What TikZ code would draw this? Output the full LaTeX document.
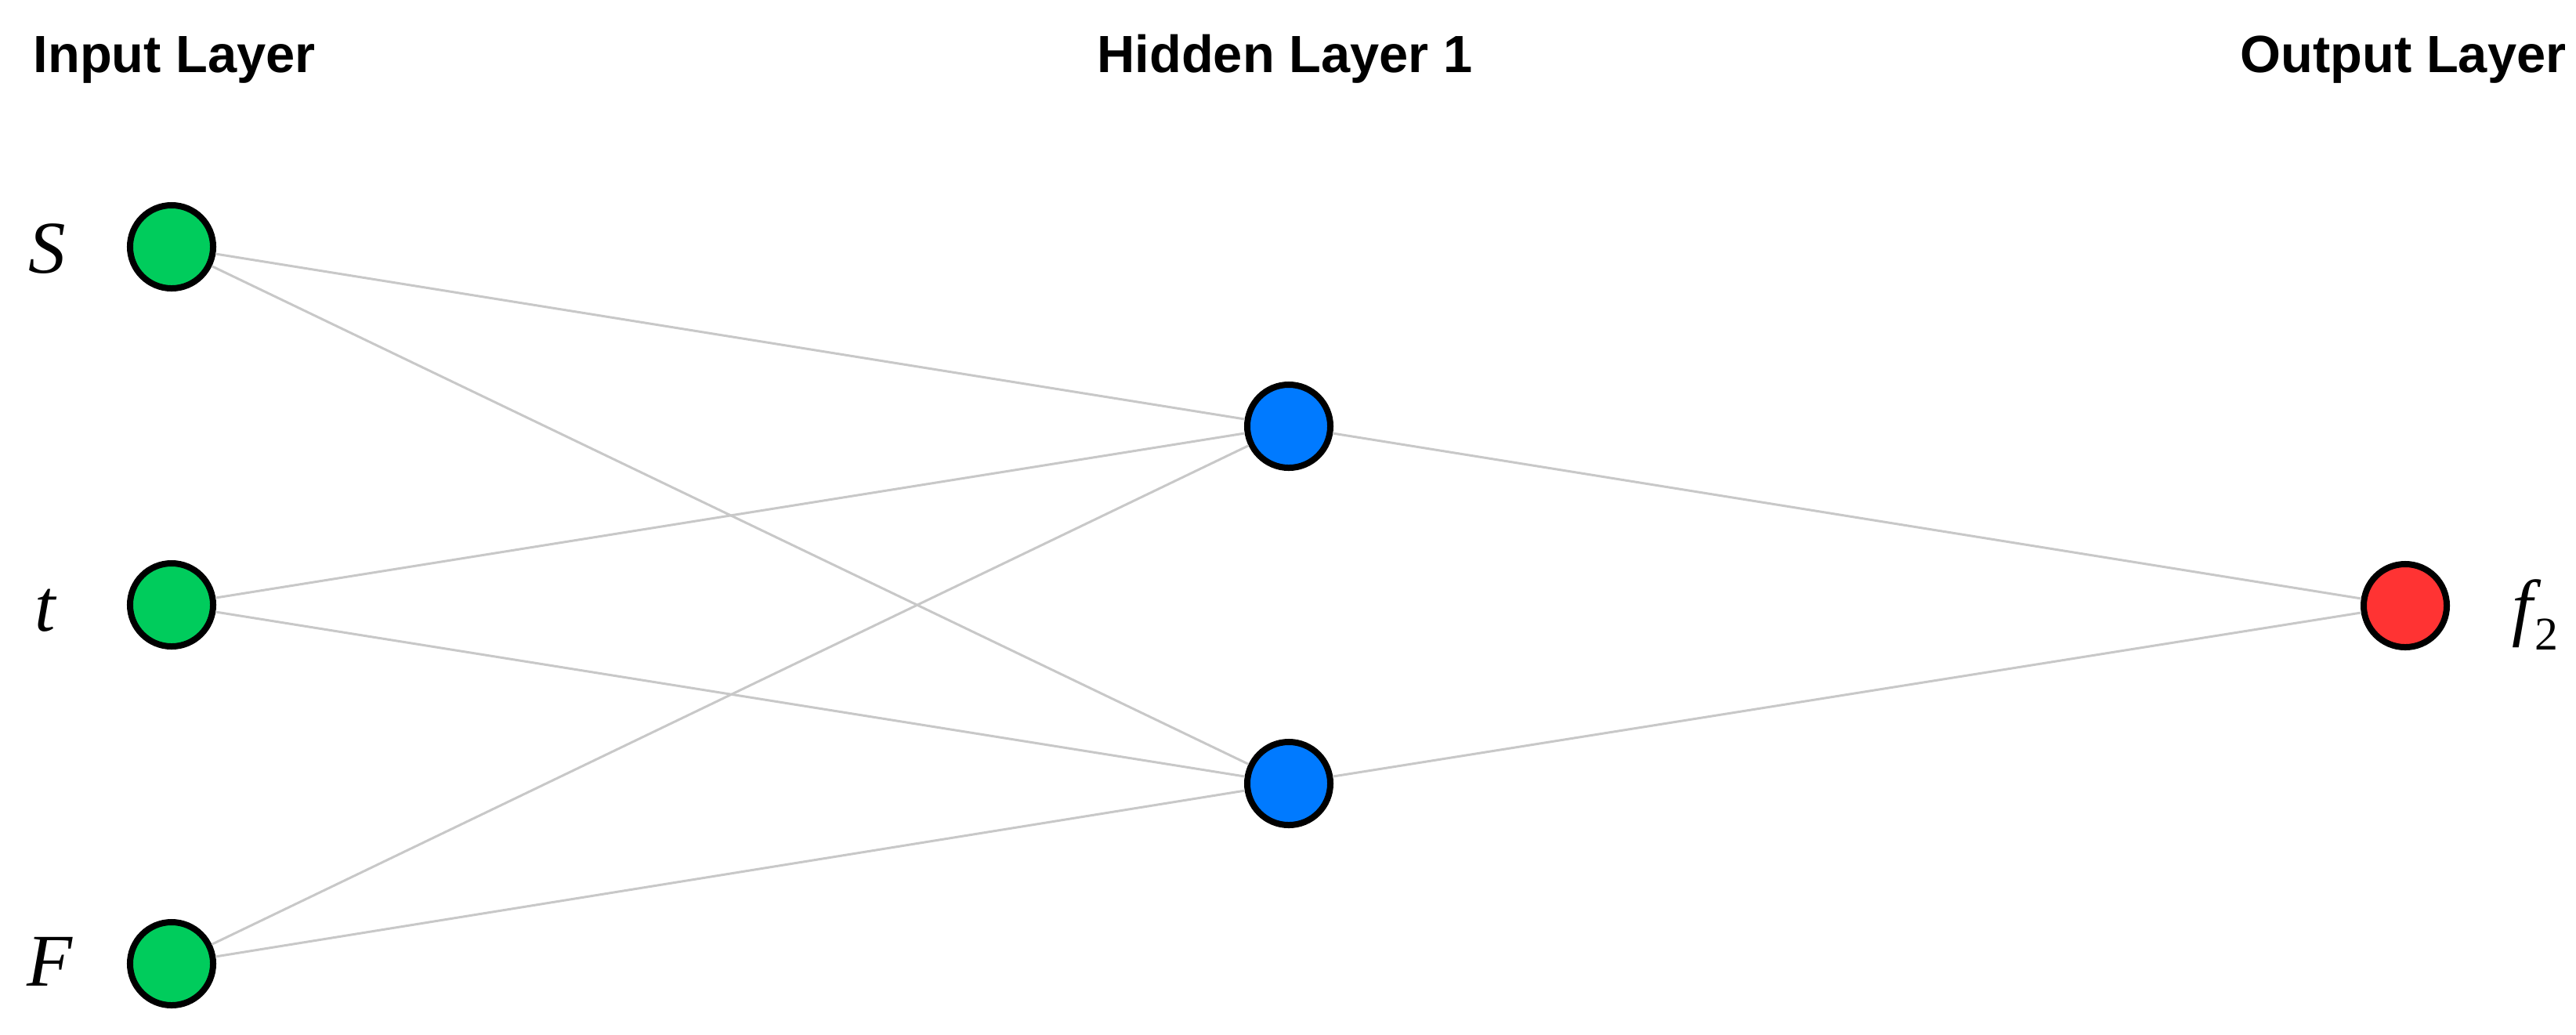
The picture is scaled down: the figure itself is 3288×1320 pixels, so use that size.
\documentclass[tikz,border=0pt]{standalone}
\usepackage{fontspec}
\setmainfont{Liberation Sans}
\newfontfamily\lblfont{Liberation Serif}
\usetikzlibrary{positioning}
\definecolor{ingreen}{RGB}{0,204,92}
\definecolor{hidblue}{RGB}{0,122,255}
\definecolor{outred}{RGB}{255,51,51}
\definecolor{edgegray}{RGB}{200,200,200}
\tikzset{
  neuron/.style={circle, draw=black, line width=0.08cm, minimum size=1.06cm, inner sep=0pt},
  inneuron/.style={neuron, fill=ingreen},
  hidneuron/.style={neuron, fill=hidblue},
  outneuron/.style={neuron, fill=outred},
  layertitle/.style={inner sep=0pt, font=\fontsize{19pt}{22pt}\selectfont\bfseries},
  varlabel/.style={inner sep=0pt, font=\fontsize{27pt}{30pt}\selectfont\lblfont\itshape},
  edge/.style={draw=edgegray, line width=0.03cm}
}
\begin{document}
\begin{tikzpicture}[x=0.01cm, y=-0.01cm]
\useasboundingbox (0,0) rectangle (3288,1320);
% titles
\node[layertitle, anchor=base west] (tin) at (42,92) {Input Layer};
\node[layertitle, anchor=base] (thid) at (1640,92) {Hidden Layer 1};
\node[layertitle, anchor=base east] (tout) at (3276,92) {Output Layer};
% neurons
\node[inneuron] (S) at (219,315) {};
\node[inneuron] (T) at (219,772) {};
\node[inneuron] (F) at (219,1230) {};
\node[hidneuron] (H1) at (1645,544) {};
\node[hidneuron] (H2) at (1645,1000) {};
\node[outneuron] (O) at (3070,773) {};
% variable labels
\node[varlabel, anchor=base west] (lS) at (36,348) {S};
\node[varlabel, anchor=base west] (lT) at (44,805) {t};
\node[varlabel, anchor=base west] (lF) at (34,1258) {F};
\node[varlabel, anchor=base west] (lO) at (3206,806) {f\kern0.02em{\fontsize{17pt}{20pt}\selectfont\upshape\raisebox{-0.23cm}{2}}};
% connections
\draw[edge] (S) -- (H1);
\draw[edge] (S) -- (H2);
\draw[edge] (T) -- (H1);
\draw[edge] (T) -- (H2);
\draw[edge] (F) -- (H1);
\draw[edge] (F) -- (H2);
\draw[edge] (H1) -- (O);
\draw[edge] (H2) -- (O);
\end{tikzpicture}
\end{document}
